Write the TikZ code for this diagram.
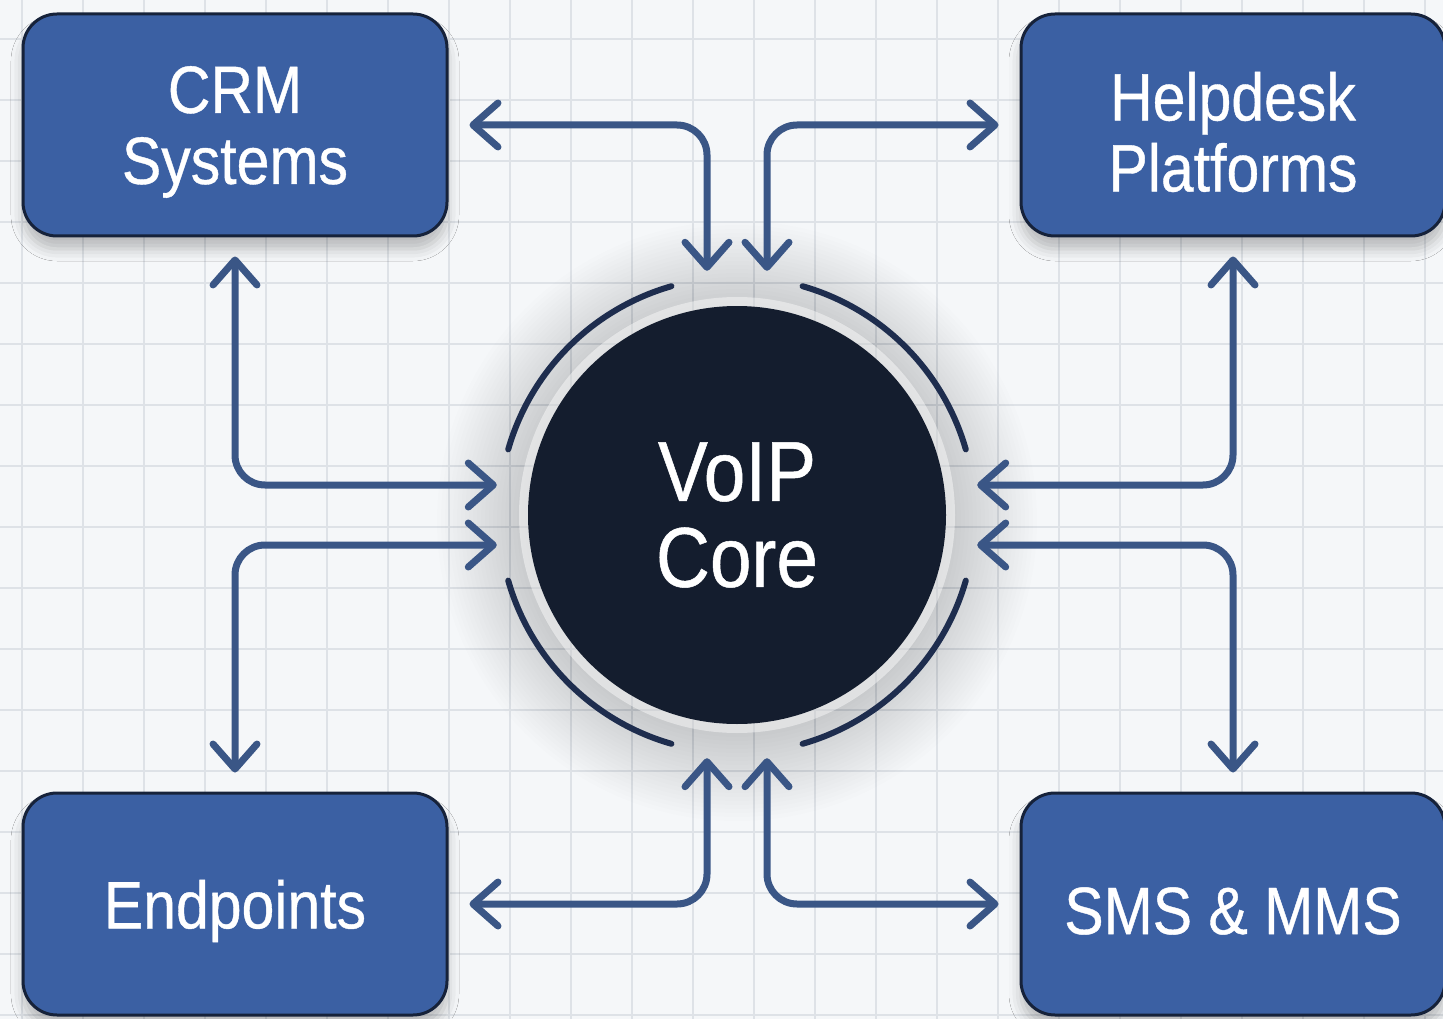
\documentclass[tikz,border=0pt]{standalone}
\usepackage{fontspec}
\setmainfont[FakeStretch=0.88,FakeBold=0.6]{Liberation Sans}
\usetikzlibrary{arrows.meta,shadows.blur}
\definecolor{bg}{RGB}{245,247,249}
\definecolor{gridc}{RGB}{222,226,231}
\definecolor{boxfill}{RGB}{59,96,163}
\definecolor{boxline}{RGB}{22,34,58}
\definecolor{arrowc}{RGB}{58,86,134}
\definecolor{arcc}{RGB}{30,45,78}
\definecolor{corefill}{RGB}{20,29,46}
\begin{document}
\begin{tikzpicture}[x=1pt,y=-1pt,
  sysbox/.style={draw=boxline, line width=3pt, fill=boxfill, rounded corners=34pt,
    minimum width=424pt, minimum height=222pt, inner sep=0pt,
    blur shadow={shadow xshift=0pt, shadow yshift=-13pt, shadow blur radius=12pt, shadow opacity=25}},
  boxtext/.style={text=white, font=\fontsize{67}{71}\selectfont, align=center, yshift=-7pt},
  corenode/.style={circle, fill=corefill, minimum size=418pt, inner sep=0pt, text=white,
    font=\fontsize{85}{86}\selectfont, align=center},
  link/.style={draw=arrowc, line width=7pt, rounded corners=30pt,
    {Straight Barb[round,length=25pt,width=44pt]}-{Straight Barb[round,length=25pt,width=44pt]}},
  arcline/.style={draw=arcc, line width=6pt, line cap=round}
]
\useasboundingbox (0,0) rectangle (1443,1019);
% background and grid
\fill[bg] (0,0) rectangle (1443,1019);
\foreach \gx in {22,83,...,1443} \draw[gridc, line width=1.6pt] (\gx,0) -- (\gx,1019);
\foreach \gy in {39,100,...,1019} \draw[gridc, line width=1.6pt] (0,\gy) -- (1443,\gy);
% soft halo round the core
\foreach \rr in {300,296,...,212}
  \fill[black, opacity=0.006] (737,521) circle[radius=\rr];
\fill[white, opacity=0.45] (737,515) circle[radius=218];
% nodes
\node[sysbox, label={[boxtext]center:CRM\\Systems}] (crm)  at (235,125) {};
\node[sysbox, label={[boxtext]center:Helpdesk\\Platforms}] (help) at (1233,125) {};
\node[sysbox, label={[boxtext]center:Endpoints}] (end)  at (235,904) {};
\node[sysbox, label={[boxtext]center:SMS \& MMS}] (sms)  at (1233,904) {};
\node[corenode] (core) at (737,515) {VoIP\\Core};
% arcs round the core
\draw[arcline] (737,515) ++(16:238) arc[start angle=16, end angle=74, radius=238];
\draw[arcline] (737,515) ++(106:238) arc[start angle=106, end angle=164, radius=238];
\draw[arcline] (737,515) ++(196:238) arc[start angle=196, end angle=254, radius=238];
\draw[arcline] (737,515) ++(286:238) arc[start angle=286, end angle=344, radius=238];
% connectors
\draw[link] ([xshift=21pt]crm.east) -| ([xshift=-30pt,yshift=35pt]core.north);
\draw[link] ([xshift=-21pt]help.west) -| ([xshift=30pt,yshift=35pt]core.north);
\draw[link] ([yshift=-19pt]crm.south) |- ([xshift=-31pt,yshift=30pt]core.west);
\draw[link] ([yshift=19pt]end.north) |- ([xshift=-31pt,yshift=-30pt]core.west);
\draw[link] ([yshift=-19pt]help.south) |- ([xshift=31pt,yshift=30pt]core.east);
\draw[link] ([yshift=19pt]sms.north) |- ([xshift=31pt,yshift=-30pt]core.east);
\draw[link] ([xshift=21pt]end.east) -| ([xshift=-30pt,yshift=-34pt]core.south);
\draw[link] ([xshift=-21pt]sms.west) -| ([xshift=30pt,yshift=-34pt]core.south);
\end{tikzpicture}
\end{document}
